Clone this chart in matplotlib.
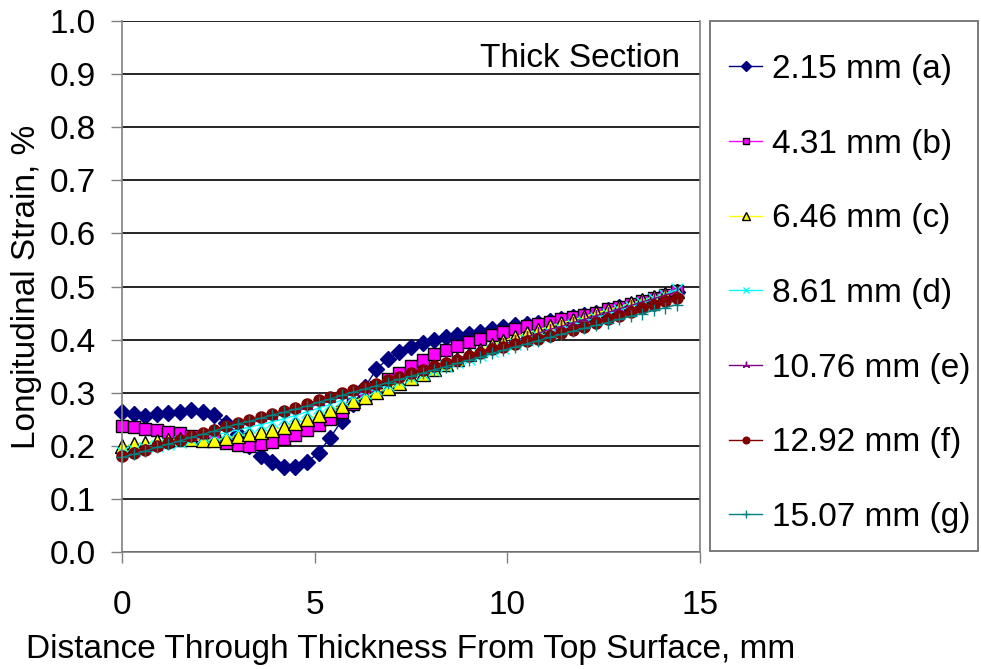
import matplotlib
matplotlib.use("Agg")
import matplotlib.pyplot as plt
from matplotlib.patches import Rectangle

plt.rcParams['font.family'] = ['Liberation Sans', 'DejaVu Sans']

# distance through thickness, mm
x = [0.0, 0.3, 0.6, 0.9, 1.2, 1.5, 1.8, 2.1, 2.4, 2.7, 3.0, 3.3, 3.6, 3.9, 4.2, 4.5,
     4.8, 5.1, 5.4, 5.7, 6.0, 6.3, 6.6, 6.9, 7.2, 7.5, 7.8, 8.1, 8.4, 8.7, 9.0, 9.3,
     9.6, 9.9, 10.2, 10.5, 10.8, 11.1, 11.4, 11.7, 12.0, 12.3, 12.6, 12.9, 13.2, 13.5,
     13.8, 14.1, 14.4]

# longitudinal strain, %
s_a = [0.263, 0.260, 0.257, 0.259, 0.262, 0.264, 0.267, 0.263, 0.258, 0.243, 0.222, 0.199,
       0.180, 0.169, 0.160, 0.160, 0.169, 0.187, 0.215, 0.247, 0.278, 0.310, 0.344, 0.364,
       0.376, 0.387, 0.394, 0.400, 0.404, 0.408, 0.411, 0.415, 0.420, 0.424, 0.428, 0.430,
       0.432, 0.435, 0.439, 0.443, 0.447, 0.451, 0.456, 0.461, 0.466, 0.471, 0.477, 0.483,
       0.490]
s_b = [0.238, 0.236, 0.231, 0.229, 0.226, 0.224, 0.219, 0.215, 0.210, 0.205, 0.201, 0.200,
       0.203, 0.207, 0.213, 0.221, 0.230, 0.240, 0.251, 0.263, 0.278, 0.294, 0.311, 0.326,
       0.338, 0.350, 0.362, 0.372, 0.380, 0.388, 0.396, 0.402, 0.408, 0.414, 0.420, 0.425,
       0.429, 0.433, 0.438, 0.442, 0.446, 0.451, 0.457, 0.462, 0.467, 0.472, 0.478, 0.484,
       0.492]
s_c = [0.199, 0.203, 0.206, 0.209, 0.211, 0.212, 0.212, 0.210, 0.211, 0.214, 0.218, 0.222,
       0.226, 0.230, 0.236, 0.243, 0.251, 0.258, 0.267, 0.275, 0.284, 0.292, 0.301, 0.309,
       0.318, 0.327, 0.336, 0.345, 0.354, 0.363, 0.372, 0.381, 0.390, 0.398, 0.405, 0.412,
       0.418, 0.425, 0.431, 0.437, 0.443, 0.450, 0.456, 0.462, 0.468, 0.474, 0.480, 0.486,
       0.491]
s_d = [0.188, 0.192, 0.196, 0.200, 0.204, 0.208, 0.212, 0.216, 0.220, 0.225, 0.230, 0.235,
       0.240, 0.245, 0.251, 0.257, 0.264, 0.271, 0.278, 0.286, 0.293, 0.300, 0.307, 0.314,
       0.322, 0.329, 0.336, 0.343, 0.350, 0.357, 0.364, 0.371, 0.378, 0.385, 0.392, 0.399,
       0.406, 0.413, 0.420, 0.427, 0.434, 0.441, 0.448, 0.455, 0.462, 0.469, 0.476, 0.484,
       0.495]
s_e = [0.180, 0.186, 0.192, 0.198, 0.205, 0.211, 0.217, 0.223, 0.229, 0.235, 0.241, 0.246,
       0.252, 0.257, 0.263, 0.269, 0.275, 0.282, 0.289, 0.296, 0.302, 0.309, 0.315, 0.322,
       0.329, 0.336, 0.343, 0.350, 0.357, 0.364, 0.371, 0.378, 0.385, 0.392, 0.398, 0.405,
       0.412, 0.419, 0.425, 0.432, 0.438, 0.445, 0.451, 0.458, 0.464, 0.471, 0.477, 0.484,
       0.490]
s_f = [0.181, 0.186, 0.192, 0.199, 0.205, 0.211, 0.218, 0.224, 0.230, 0.237, 0.243, 0.248,
       0.254, 0.260, 0.265, 0.271, 0.278, 0.286, 0.292, 0.299, 0.305, 0.311, 0.317, 0.323,
       0.330, 0.337, 0.343, 0.350, 0.356, 0.362, 0.369, 0.375, 0.382, 0.387, 0.392, 0.397,
       0.402, 0.407, 0.412, 0.418, 0.424, 0.431, 0.438, 0.445, 0.452, 0.459, 0.466, 0.472,
       0.478]
s_g = [0.178, 0.184, 0.190, 0.197, 0.203, 0.209, 0.216, 0.222, 0.228, 0.235, 0.241, 0.246,
       0.252, 0.258, 0.263, 0.269, 0.275, 0.282, 0.288, 0.295, 0.301, 0.307, 0.313, 0.319,
       0.325, 0.331, 0.337, 0.343, 0.349, 0.355, 0.361, 0.367, 0.374, 0.380, 0.386, 0.392,
       0.398, 0.404, 0.410, 0.416, 0.421, 0.427, 0.432, 0.438, 0.444, 0.449, 0.455, 0.460,
       0.466]

labels = ["2.15 mm (a)", "4.31 mm (b)", "6.46 mm (c)", "8.61 mm (d)",
          "10.76 mm (e)", "12.92 mm (f)", "15.07 mm (g)"]
series = [s_a, s_b, s_c, s_d, s_e, s_f, s_g]
colors = ["#000080", "#FF00FF", "#FFFF00", "#00FFFF", "#800080", "#800000", "#008080"]
markers = ["D", "s", "^", "x", (3, 2, 0), "o", "+"]
msizes = [8.5, 8, 9.5, 8, 9, 8, 9]
edges = ["#000080", "#000000", "#000000", "#00FFFF", "#800080", "#800000", "#008080"]

yticks = [0.0, 0.1, 0.2, 0.3, 0.4, 0.5, 0.6, 0.7, 0.8, 0.9, 1.0]
ytick_labels = ["0.0", "0.1", "0.2", "0.3", "0.4", "0.5", "0.6", "0.7", "0.8", "0.9", "1.0"]
xticks = [0, 5, 10, 15]

W, H = 981, 669
fig = plt.figure(figsize=(W / 100, H / 100), dpi=100)
ax = fig.add_axes([122 / W, (H - 552) / H, (700 - 122) / W, (552 - 21) / H])

handles = []
for s, lab, c, m, ms, ec in zip(series, labels, colors, markers, msizes, edges):
    h, = ax.plot(x, s, color=c, lw=1.0, marker=m, markersize=ms,
                 markerfacecolor=c, markeredgecolor=ec, markeredgewidth=1.0,
                 label=lab, clip_on=False)
    handles.append(h)

ax.set_xlim(0, 15)
ax.set_ylim(0, 1.0)
ax.set_xticks(xticks)
ax.set_yticks(yticks)
ax.set_yticklabels(ytick_labels)
ax.tick_params(axis='both', direction='out', length=8, width=1, color='#808080',
               labelsize=24)
ax.tick_params(axis='x', pad=19)
ax.tick_params(axis='y', pad=11)
ax.yaxis.grid(True, color='black', lw=1.2)
ax.set_axisbelow(True)
ax.spines['top'].set_visible(False)
for side in ['left', 'right', 'bottom']:
    ax.spines[side].set_color('#808080')
    ax.spines[side].set_linewidth(1.2)

ax.set_xlabel("Distance Through Thickness From Top Surface, mm", fontsize=24)
ax.set_ylabel("Longitudinal Strain, %", fontsize=24)
ax.xaxis.set_label_coords(0.5, (552 - 634) / 531)
ax.yaxis.set_label_coords((42 - 122) / 578, 0.5)

ax.text(0.965, 0.93, "Thick Section", transform=ax.transAxes, ha='right', va='center',
        fontsize=24)

# legend box
fig.patches.append(Rectangle((710 / W, (H - 551) / H), (978 - 710) / W, (551 - 21) / H,
                             transform=fig.transFigure, facecolor='white',
                             edgecolor='#707070', lw=1.3))
leg = fig.legend(handles=handles, loc='upper left',
                 bbox_to_anchor=(729 / W, 1 - 54 / H), frameon=False,
                 fontsize=24, borderpad=0, borderaxespad=0, labelspacing=1.31,
                 handlelength=1.0, handletextpad=0.28, markerscale=0.6)

fig.savefig("out.png", dpi=100)
